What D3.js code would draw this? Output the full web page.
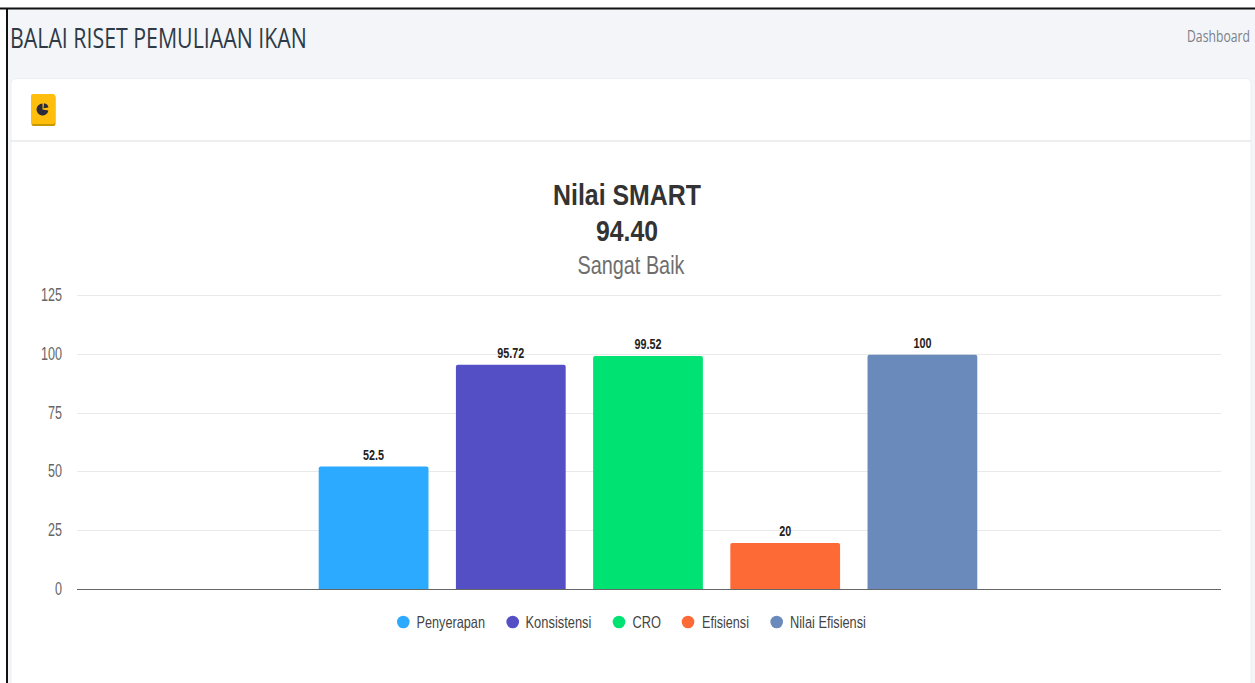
<!DOCTYPE html>
<html><head><meta charset="utf-8">
<script src="https://cdn.jsdelivr.net/npm/d3@7/dist/d3.min.js"></script>
<style>html,body{margin:0;padding:0;background:#fff;overflow:hidden}svg{display:block}</style>
</head><body><svg id="c" width="1255" height="683"></svg>
<script>
const seriesNames = ["Penyerapan","Konsistensi","CRO","Efisiensi","Nilai Efisiensi"];
const seriesValues = [52.5,95.72,99.52,20,100];
const valueLabels = ["52.5","95.72","99.52","20","100"];
const seriesColors = ["#2BAAFF","#544FC5","#00E272","#FE6A35","#6B8ABC"];
const yTicks = [0,25,50,75,100,125];
const legendCircleX = [403.3,512.7,619,688,776.7];
const legendTextX = [416.5,525.5,632.5,702,790];
const legendTextW = [68.5,66,28.5,47,76];
const titleLines = ["Nilai SMART","94.40"];
const subtitle = "Sangat Baik";

const svg = d3.select("#c");
// place a text at (x,y) squeezed horizontally to the given width (the reference is a stretched screenshot)
function put(parent,str,x,y,size,width,opts={}){
  const t = parent.append("text").text(str)
    .attr("font-family",opts.family||"Liberation Sans").attr("font-size",size)
    .attr("font-weight",opts.weight||"normal").attr("fill",opts.fill||"#333")
    .attr("text-anchor",opts.anchor||"start");
  const natural = t.node().getComputedTextLength();
  const sx = width===null ? (opts.sx||1) : width/natural;
  t.attr("transform",`translate(${x},${y}) scale(${sx},1)`);
  return t;
}

// page
svg.append("rect").attr("width",1255).attr("height",683).attr("fill","#fff");
svg.append("rect").attr("x",7).attr("y",9).attr("width",1248).attr("height",674).attr("fill","#f3f5f9");
svg.append("rect").attr("x",11).attr("y",78.5).attr("width",1240).attr("height",620).attr("rx",5).attr("fill","#fff").attr("stroke","#eceef2");
svg.append("line").attr("x1",11).attr("x2",1251).attr("y1",141).attr("y2",141).attr("stroke","#e6e8eb").attr("stroke-width",1.5);
svg.append("line").attr("x1",0).attr("x2",1255).attr("y1",8.5).attr("y2",8.5).attr("stroke","#111").attr("stroke-width",2);
svg.append("line").attr("x1",7).attr("x2",7).attr("y1",8).attr("y2",683).attr("stroke","#111").attr("stroke-width",2);

put(svg,"BALAI RISET PEMULIAAN IKAN",10,48,28,297,{family:"Open Sans",fill:"#2f3a47"});
put(svg,"Dashboard",1187,42,16,63,{family:"Open Sans",fill:"#7b8189"});

// icon
svg.append("rect").attr("x",31.5).attr("y",95).attr("width",24).attr("height",31).attr("rx",2).attr("fill","#c99700");
svg.append("rect").attr("x",31).attr("y",94).attr("width",24).attr("height",30).attr("rx",2).attr("fill","#FFBE0B");
const ic = svg.append("g").attr("transform","translate(42.5,109.5)");
ic.append("path").attr("d",d3.arc().innerRadius(0).outerRadius(6)({startAngle:1.75,endAngle:6.283})).attr("fill","#2b2b3a");
ic.append("path").attr("d",d3.arc().innerRadius(0).outerRadius(5)({startAngle:0.1,endAngle:1.4})).attr("transform","translate(1,-1.2)").attr("fill","#2b2b3a");

// title
const tc = 627;
put(svg,titleLines[0],tc,205,30,148,{weight:"bold",anchor:"middle"});
put(svg,titleLines[1],tc,241,30,62,{weight:"bold",anchor:"middle"});
put(svg,subtitle,631,274,25,107,{fill:"#6e6e6e",anchor:"middle"});

// scales
const y = d3.scaleLinear().domain([0,125]).range([589,295]);
const x = d3.scaleBand().domain(seriesNames).range([305,991]).paddingInner(0.2).paddingOuter(0.1);
const color = d3.scaleOrdinal().domain(seriesNames).range(seriesColors);

// grid
svg.append("g").selectAll("line").data(yTicks.filter(d=>d>0)).join("line")
  .attr("x1",77).attr("x2",1221).attr("y1",d=>Math.round(y(d))+.5).attr("y2",d=>Math.round(y(d))+.5)
  .attr("stroke","#e9e9e9").attr("stroke-width",1.2);

// y labels
const yg = svg.append("g");
yTicks.forEach(d=>put(yg,String(d),62,y(d)+6,18,null,{anchor:"end",fill:"#666",sx:0.7}));

// bars
const topGap = 1;
const rtop=(x0,y0,w,h,r)=>{const p=d3.path();p.moveTo(x0,y0+h);p.lineTo(x0,y0+r);p.quadraticCurveTo(x0,y0,x0+r,y0);p.lineTo(x0+w-r,y0);p.quadraticCurveTo(x0+w,y0,x0+w,y0+r);p.lineTo(x0+w,y0+h);p.closePath();return p.toString();};
svg.append("g").selectAll("path").data(seriesNames).join("path")
  .attr("d",(d,i)=>rtop(x(d),y(seriesValues[i])+topGap,x.bandwidth(),y(0)-y(seriesValues[i])-topGap,2))
  .attr("fill",d=>color(d));

// baseline
svg.append("line").attr("x1",77).attr("x2",1221).attr("y1",589.5).attr("y2",589.5).attr("stroke","#666").attr("stroke-width",1.2);

// value labels
const vg = svg.append("g");
seriesNames.forEach((d,i)=>put(vg,valueLabels[i],x(d)+x.bandwidth()/2,y(seriesValues[i])+topGap-7,14,null,{anchor:"middle",weight:"bold",fill:"#222",sx:0.77}));

// legend
const lg = svg.append("g");
seriesNames.forEach((d,i)=>{
  lg.append("circle").attr("cx",legendCircleX[i]).attr("cy",622).attr("r",6.3).attr("fill",color(d));
  put(lg,d,legendTextX[i],627.5,16.5,legendTextW[i],{fill:"#444"});
});
</script></body></html>
